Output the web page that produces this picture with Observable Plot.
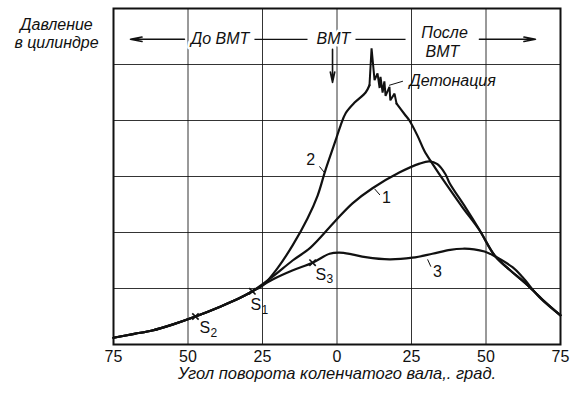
<!DOCTYPE html>
<html><head><meta charset="utf-8">
<script src="https://cdn.jsdelivr.net/npm/d3@7"></script>
<script src="https://cdn.jsdelivr.net/npm/@observablehq/plot@0.6"></script>
<style>body{margin:0;background:#fff} svg{display:block}</style>
</head><body><div id="chart"></div>
<script>
// X: crank angle (deg, negative = before TDC); Y: cylinder pressure (arbitrary units, 0..6)
const xTicks = [-75, -50, -25, 0, 25, 50, 75];
const yGrid = [1, 2, 3, 4, 5];

// common compression part up to S1
const commonAngle = [-75, -68, -62, -55, -47.5, -39, -33, -28.4];
const commonP     = [0.12, 0.19, 0.25, 0.36, 0.5, 0.68, 0.82, 0.95];

// curve 1 (normal combustion)
const curve1Angle = [-28.4, -21.6, -14.9, -8.9, -0.5, 5.2, 11.9, 20.9, 27.7, 31, 33.7, 36.4, 37.8, 43.1, 47.8, 52.9, 58, 63.3, 69, 75];
const curve1P     = [0.95, 1.21, 1.5, 1.73, 2.21, 2.52, 2.79, 3.07, 3.23, 3.27, 3.22, 3.04, 2.88, 2.45, 2.05, 1.59, 1.33, 1.09, 0.8, 0.52];

// curve 2 (early ignition, with knock)
const curve2RiseAngle = [-28.4, -25, -20, -14.9, -9.9, -6.5, -3.9, -0.5, 1.2, 2.9, 5.9, 9.6, 10.9];
const curve2RiseP     = [0.95, 1.05, 1.36, 1.77, 2.25, 2.66, 3.11, 3.64, 3.91, 4.13, 4.32, 4.5, 4.63];
const curve2KnockAngle = [10.9, 11.6, 12.6, 13.6, 14.3, 14.6, 15.3, 15.9, 16.3, 17.6, 17.9, 19.3, 20.0];
const curve2KnockP     = [4.63, 5.29, 4.72, 4.84, 4.58, 4.78, 4.5, 4.7, 4.44, 4.6, 4.36, 4.48, 4.3];
const curve2FallAngle = [20, 23, 24.3, 27, 29.3, 32, 36.4, 42.1, 47.8, 52.9, 58, 63.3, 69, 75];
const curve2FallP     = [4.3, 4.09, 4.0, 3.73, 3.46, 3.23, 2.88, 2.45, 2.04, 1.59, 1.33, 1.09, 0.8, 0.52];

// curve 3 (late ignition)
const curve3Angle = [-28.4, -21.6, -15, -8.2, -2.5, 0.8, 5, 9.6, 17.6, 25.3, 32, 38, 42.1, 46, 49.5, 52.5, 58.9, 62.3, 68, 75];
const curve3P     = [0.95, 1.16, 1.32, 1.46, 1.62, 1.64, 1.61, 1.56, 1.52, 1.55, 1.62, 1.69, 1.71, 1.7, 1.66, 1.59, 1.38, 1.2, 0.84, 0.52];

// ignition points S1, S2, S3
const sNames = ["S", "S", "S"];
const sSubs = ["2", "1", "3"];
const sAngle = [-47.5, -28.4, -8.2];
const sP = [0.5, 0.95, 1.46];
const sLabelAngle = [-46.1, -29.0, -7.2];
const sLabelP = [0.3, 0.71, 1.25];

// curve numbers and leaders
const curveNames = ["2", "1", "3"];
const curveNameAngle = [-8.8, 16.6, 33.7];
const curveNameP = [3.29, 2.61, 1.29];
const leaderFromAngle = [-5.9, 12.6, 30.4];
const leaderFromP = [3.18, 2.78, 1.52];
const leaderToAngle = [-4.2, 14.4, 31.5];
const leaderToP = [3.07, 2.67, 1.39];

// knock annotation
const knockText = ["Детонация"];
const knockAngle = [24.3];
const knockP = [4.71];
const knockLeaderAngle = [17.6, 22];
const knockLeaderP = [4.63, 4.7];

// header row
const headerTexts = ["До ВМТ", "ВМТ", "После", "ВМТ"];
const headerAngle = [-39.2, -1.2, 36.1, 35.4];
const headerP = [5.45, 5.45, 5.56, 5.23];
const headerLineX1 = [-27.7, 6.2];
const headerLineX2 = [-9.9, 23.0];
const headerArrowX1 = [-51.2, 47.8];
const headerArrowX2 = [-69.3, 66.6];
const headerLineP = 5.45;
const tdcArrowAngle = -1.5;
const tdcArrowP = [5.27, 4.68];

const yTitle = ["Давление", "в цилиндре"];
const xTitle = "Угол поворота коленчатого вала,. град.";

const rows = (a, p) => a.map((x, i) => ({x, y: p[i]}));
const curve1 = rows([...commonAngle, ...curve1Angle.slice(1)], [...commonP, ...curve1P.slice(1)]);
const curve2Rise = rows([...commonAngle, ...curve2RiseAngle.slice(1)], [...commonP, ...curve2RiseP.slice(1)]);
const curve2Knock = rows(curve2KnockAngle, curve2KnockP);
const curve2Fall = rows(curve2FallAngle, curve2FallP);
const curve3 = rows([...commonAngle, ...curve3Angle.slice(1)], [...commonP, ...curve3P.slice(1)]);
const sPoints = sAngle.map((x, i) => ({x, y: sP[i]}));
const sLabels = sLabelAngle.map((x, i) => ({x, y: sLabelP[i], name: sNames[i], sub: sSubs[i]}));
const curveLabels = curveNames.map((t, i) => ({t, x: curveNameAngle[i], y: curveNameP[i]}));
const leaders = leaderFromAngle.map((x, i) => ({x1: x, y1: leaderFromP[i], x2: leaderToAngle[i], y2: leaderToP[i]}));
const headers = headerTexts.map((t, i) => ({t, x: headerAngle[i], y: headerP[i]}));
const headerLines = headerLineX1.map((x, i) => ({x1: x, x2: headerLineX2[i], y: headerLineP}));
const headerArrows = headerArrowX1.map((x, i) => ({x1: x, x2: headerArrowX2[i], y: headerLineP}));

const FONT = "'Liberation Sans', Arial, sans-serif";
const INK = "#111";
const smooth = {x: "x", y: "y", stroke: INK, strokeWidth: 2.2, curve: "catmull-rom"};

const chart = Plot.plot({
  width: 584, height: 398,
  marginLeft: 113, marginRight: 24, marginTop: 8, marginBottom: 54,
  x: {domain: [-75, 75]},
  y: {domain: [0, 6]},
  style: {fontFamily: FONT, fontSize: "16px", color: INK, background: "#fff", overflow: "visible"},
  marks: [
    Plot.ruleX(xTicks.slice(1, -1), {stroke: INK, strokeWidth: 1, strokeOpacity: 0.85}),
    Plot.ruleY(yGrid, {stroke: INK, strokeWidth: 1, strokeOpacity: 0.85}),
    Plot.frame({stroke: INK, strokeWidth: 2}),
    Plot.axisX(xTicks, {tickSize: 0, tickPadding: 6, tickFormat: d => Math.abs(d), fontSize: 16}),
    Plot.axisY({ticks: [], label: null, tickSize: 0}),
    // header row
    Plot.link(headerLines, {x1: "x1", x2: "x2", y1: "y", y2: "y", stroke: INK, strokeWidth: 1.3}),
    Plot.arrow(headerArrows, {x1: "x1", x2: "x2", y1: "y", y2: "y", stroke: INK, strokeWidth: 1.6, headLength: 11, headAngle: 22}),
    Plot.arrow([{x: tdcArrowAngle, y1: tdcArrowP[0], y2: tdcArrowP[1]}], {x1: "x", x2: "x", y1: "y1", y2: "y2", stroke: INK, strokeWidth: 1.6, headLength: 10, headAngle: 24}),
    Plot.text(headers, {x: "x", y: "y", text: "t", fontSize: 16, fontStyle: "italic", fill: INK, stroke: "white", strokeWidth: 5}),
    // curves
    Plot.line(curve3, smooth),
    Plot.line(curve1, smooth),
    Plot.line(curve2Rise, smooth),
    Plot.line(curve2Knock, {x: "x", y: "y", stroke: INK, strokeWidth: 2, curve: "linear", strokeLinejoin: "miter"}),
    Plot.line(curve2Fall, smooth),
    // S points
    Plot.dot(sPoints, {x: "x", y: "y", symbol: "times", r: 3, stroke: INK, strokeWidth: 1.6}),
    Plot.text(sLabels, {x: "x", y: "y", text: "name", textAnchor: "start", fontSize: 16, fill: INK}),
    Plot.text(sLabels, {x: "x", y: "y", text: "sub", textAnchor: "start", fontSize: 12, dx: 11, dy: 5, fill: INK}),
    // curve numbers
    Plot.link(leaders, {x1: "x1", y1: "y1", x2: "x2", y2: "y2", stroke: INK, strokeWidth: 1}),
    Plot.text(curveLabels, {x: "x", y: "y", text: "t", fontSize: 16, fill: INK}),
    // knock
    Plot.line(rows(knockLeaderAngle, knockLeaderP), {x: "x", y: "y", stroke: INK, strokeWidth: 1}),
    Plot.text(knockText, {x: knockAngle, y: knockP, text: d => d, textAnchor: "start", fontSize: 16, fontStyle: "italic", fill: INK}),
    // titles in margins
    Plot.text([yTitle[0]], {frameAnchor: "top-left", text: d => d, dx: -57, dy: 10, textAnchor: "middle", fontSize: 16, fontStyle: "italic", fill: INK}),
    Plot.text([yTitle[1]], {frameAnchor: "top-left", text: d => d, dx: -57, dy: 28, textAnchor: "middle", fontSize: 16, fontStyle: "italic", fill: INK}),
    Plot.text([xTitle], {frameAnchor: "bottom", text: d => d, dy: 34, fontSize: 16.5, fontStyle: "italic", fill: INK})
  ]
});
document.getElementById("chart").append(chart);
</script>
</body></html>
